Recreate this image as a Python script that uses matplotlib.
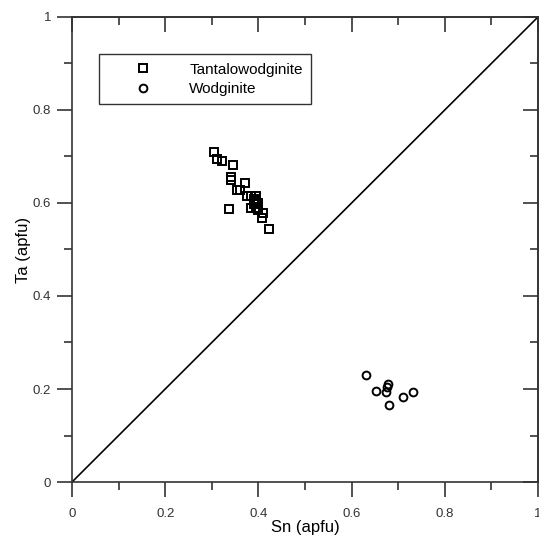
import matplotlib
matplotlib.use("Agg")
from matplotlib import pyplot as plt

plt.rcParams['font.family'] = ['Liberation Sans', 'DejaVu Sans']

# Tantalowodginite (squares)
tw_sn = [0.305, 0.311, 0.322, 0.346, 0.341, 0.341, 0.371, 0.354, 0.360, 0.337,
         0.375, 0.385, 0.390, 0.395, 0.390, 0.395, 0.400, 0.385, 0.400, 0.395,
         0.410, 0.408, 0.423]
tw_ta = [0.710, 0.695, 0.690, 0.682, 0.656, 0.649, 0.643, 0.628, 0.628, 0.587,
         0.615, 0.615, 0.608, 0.615, 0.598, 0.590, 0.600, 0.590, 0.585, 0.605,
         0.578, 0.568, 0.544]

# Wodginite (circles)
wd_sn = [0.631, 0.652, 0.678, 0.676, 0.674, 0.680, 0.710, 0.732]
wd_ta = [0.230, 0.196, 0.211, 0.204, 0.194, 0.166, 0.183, 0.194]

ticks = [0, 0.2, 0.4, 0.6, 0.8, 1]
labels = ['0', '0.2', '0.4', '0.6', '0.8', '1']
minor = [0.1, 0.3, 0.5, 0.7, 0.9]

fig = plt.figure(figsize=(5.39, 5.37), dpi=100)
ax = fig.add_axes([0.1336, 0.1024, 0.8645, 0.866])

ax.plot([0, 1], [0, 1], color='black', lw=1.2, zorder=1)
ax.plot(tw_sn, tw_ta, ls='none', marker='s', ms=5.8, mfc='none', mec='black',
        mew=1.4, label='Tantalowodginite')
ax.plot(wd_sn, wd_ta, ls='none', marker='o', ms=5.6, mfc='none', mec='black',
        mew=1.4, label='Wodginite')

ax.set_xlim(0, 1)
ax.set_ylim(0, 1)
ax.set_xticks(ticks, labels)
ax.set_yticks(ticks, labels)
ax.set_xticks(minor, minor=True)
ax.set_yticks(minor, minor=True)
ax.tick_params(which='major', direction='out', length=11, width=1.2,
               labelsize=9.5, colors='#333333', labelcolor='#333333')
ax.tick_params(which='minor', direction='out', length=6, width=1.2,
               colors='#333333')
ax.tick_params(axis='x', which='major', pad=8)
ax.tick_params(axis='y', which='major', pad=4)

# inward ticks on the top and right
top = ax.secondary_xaxis('top')
top.set_xticks(ticks)
top.set_xticks(minor, minor=True)
top.tick_params(labeltop=False)
right = ax.secondary_yaxis('right')
right.set_yticks(ticks)
right.set_yticks(minor, minor=True)
right.tick_params(labelright=False)
for sec in [top, right]:
    sec.tick_params(which='major', direction='in', length=11, width=1.2,
                    colors='#333333')
    sec.tick_params(which='minor', direction='in', length=6, width=1.2,
                    colors='#333333')
    for s in sec.spines.values():
        s.set_linewidth(1.2)
        s.set_color('#333333')

for s in ax.spines.values():
    s.set_linewidth(1.2)
    s.set_color('#333333')

ax.set_xlabel('Sn (apfu)', fontsize=12, labelpad=0)
ax.set_ylabel('Ta (apfu)', fontsize=12, labelpad=1)

leg = ax.legend(loc='upper left', bbox_to_anchor=(0.058, 0.92), fontsize=11,
                frameon=True, fancybox=False, edgecolor='black',
                borderpad=0.55, handletextpad=0.75, labelspacing=0.35,
                borderaxespad=0, handlelength=4.6, markerscale=1.0)
leg.get_frame().set_linewidth(1.0)

plt.savefig("out.png", dpi=100)
